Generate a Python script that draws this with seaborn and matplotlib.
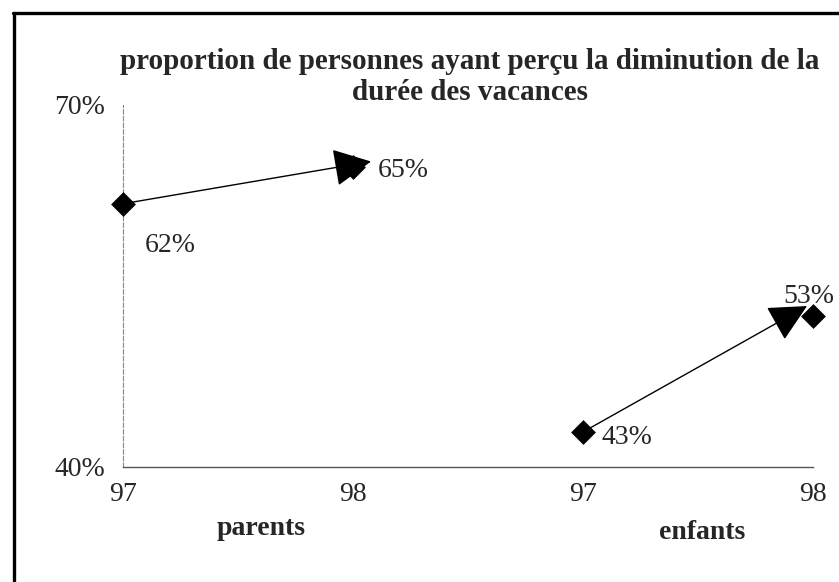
import matplotlib
matplotlib.use("Agg")
import matplotlib.pyplot as plt
import seaborn as sns
import pandas as pd
from matplotlib.lines import Line2D
from matplotlib.transforms import blended_transform_factory, ScaledTranslation

# ---- data ----
groups = ["parents", "parents", "enfants", "enfants"]
years = ["97", "98", "97", "98"]
values = [61.8, 64.8, 42.9, 52.5]
value_labels = ["62%", "65%", "43%", "53%"]
group_names = ["parents", "enfants"]
y_ticks = [40, 70]
y_tick_labels = ["40%", "70%"]
title = "proportion de personnes ayant perçu la diminution de la\ndurée des vacances"

df = pd.DataFrame({"group": groups, "year": years, "value": values})
df["pos"] = range(len(df))

sns.set_style("white")
plt.rcParams["font.family"] = ["Liberation Serif", "DejaVu Serif"]

fig = plt.figure(figsize=(8.39, 5.82), dpi=100)
ax = fig.add_axes([123 / 839, 1 - 467 / 582, 690 / 839, (467 - 104.7) / 582])

sns.scatterplot(data=df, x="pos", y="value", marker="D", s=160, color="black",
                edgecolor="black", linewidth=0, ax=ax, zorder=3, clip_on=False,
                legend=False)

# arrows between years within each group (tip offset in inches from the end point)
tip_offsets = {"parents": (0.18, 0.06), "enfants": (-0.06, 0.10)}
for g in group_names:
    sub = df[df["group"] == g]
    (x1, y1), (x2, y2) = sub[["pos", "value"]].values
    dx, dy = tip_offsets[g]
    tip_trans = ax.transData + ScaledTranslation(dx, dy, fig.dpi_scale_trans)
    ax.annotate("", xy=(x2, y2), xycoords=tip_trans, xytext=(x1, y1),
                textcoords="data",
                arrowprops=dict(arrowstyle="-|>,head_length=1.2,head_width=0.6",
                                mutation_scale=20, color="black", lw=1.0,
                                shrinkA=6, shrinkB=0),
                zorder=4, annotation_clip=False)

# value labels
offsets = [(16, -30), (18, -2), (13, -4), (-3, 14)]
has = ["left", "left", "left", "center"]
for (x, y, lab, off, ha) in zip(df["pos"], df["value"], value_labels, offsets, has):
    ax.annotate(lab, xy=(x, y), xytext=off, textcoords="offset points",
                ha=ha, va="center", fontsize=20, annotation_clip=False, zorder=5)

ax.set_xlim(0, 3)
ax.set_ylim(40, 70)
ax.set_xticks(df["pos"])
ax.set_xticklabels(years, fontsize=20)
ax.set_yticks(y_ticks)
ax.set_yticklabels(y_tick_labels, fontsize=20)
ax.set_xlabel("")
ax.set_ylabel("")

for s in ["top", "right"]:
    ax.spines[s].set_visible(False)
ax.spines["left"].set_color("#888888")
ax.spines["left"].set_linestyle((0, (4, 2)))
ax.spines["left"].set_linewidth(0.8)
ax.spines["bottom"].set_color("#555555")
ax.spines["bottom"].set_linewidth(1.0)

ax.tick_params(axis="y", direction="in", length=13, width=0.8, color="#666666", pad=13)
ax.tick_params(axis="x", direction="inout", length=12, width=0.8, color="#666666", pad=5)

# group labels
trans = blended_transform_factory(ax.transData, ax.transAxes)
group_centers = [df[df["group"] == g]["pos"].mean() for g in group_names]
for g, c in zip(group_names, group_centers):
    if g == "parents":
        xx, yy = c + 0.1, -0.17
    else:
        xx, yy = c + 0.02, -0.18
    ax.text(xx, yy, g, transform=trans, ha="center", va="center",
            fontsize=20, fontweight="bold")

fig.text(470 / 839, 1 - 77 / 582, title, ha="center", va="center",
         fontsize=21, fontweight="bold", linespacing=1.2)

# frame around the figure (top and left visible)
fig.add_artist(Line2D([13 / 839, 1.0], [1 - 13 / 582, 1 - 13 / 582],
                      transform=fig.transFigure, color="black", lw=2.4))
fig.add_artist(Line2D([14 / 839, 14 / 839], [0.0, 1 - 13 / 582],
                      transform=fig.transFigure, color="black", lw=2.4))

fig.savefig("out.png", dpi=100, facecolor="white")
